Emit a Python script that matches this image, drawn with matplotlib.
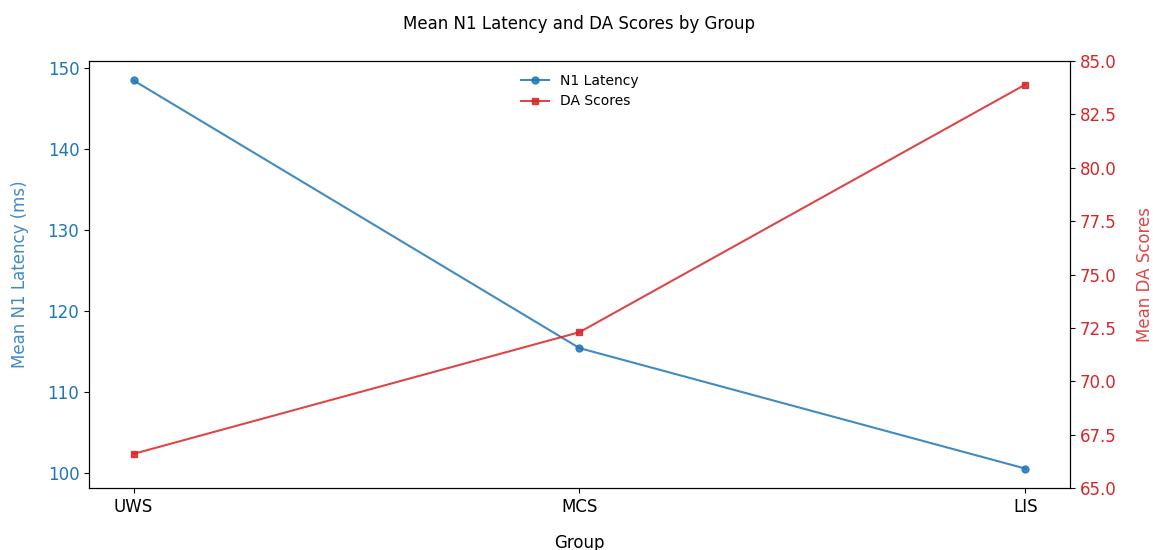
import numpy as np
import matplotlib.pyplot as plt

# group means
groups = ["UWS", "MCS", "LIS"]
n1_latency = [148.5, 115.4, 100.5]
da_scores = [66.6, 72.3, 83.9]


def main():
    fig, ax1 = plt.subplots(figsize=(11.53, 5.5), dpi=100)
    fig.subplots_adjust(left=0.0772, right=0.928, bottom=0.1127, top=0.889)

    x = np.arange(len(groups))

    # N1 latency on the left axis
    blue = "tab:blue"
    l1, = ax1.plot(x, n1_latency, marker="o", markersize=5, color=blue,
                   alpha=0.85, label="N1 Latency")
    ax1.set_ylabel("Mean N1 Latency (ms)", color=blue, fontsize=12, alpha=0.85,
                   labelpad=13)
    ax1.tick_params(axis="y", labelcolor=blue, labelsize=12)
    ax1.tick_params(axis="x", labelsize=12)
    ax1.set_xticks(x)
    ax1.set_xticklabels(groups)
    ax1.set_xlabel("Group", fontsize=12, labelpad=13)

    # DA scores on the right axis
    red = "tab:red"
    ax2 = ax1.twinx()
    l2, = ax2.plot(x, da_scores, marker="s", markersize=5, color=red,
                   alpha=0.85, label="DA Scores")
    ax2.set_ylabel("Mean DA Scores", color=red, fontsize=12, alpha=0.85,
                   labelpad=14)
    ax2.tick_params(axis="y", labelcolor=red, labelsize=12)
    ax2.set_ylim(65, 85)

    ax1.set_title("Mean N1 Latency and DA Scores by Group", fontsize=12, pad=23)
    ax1.legend(handles=[l1, l2], loc="upper center", frameon=False, fontsize=10)

    fig.savefig("out.png", dpi=100)


if __name__ == "__main__":
    main()
